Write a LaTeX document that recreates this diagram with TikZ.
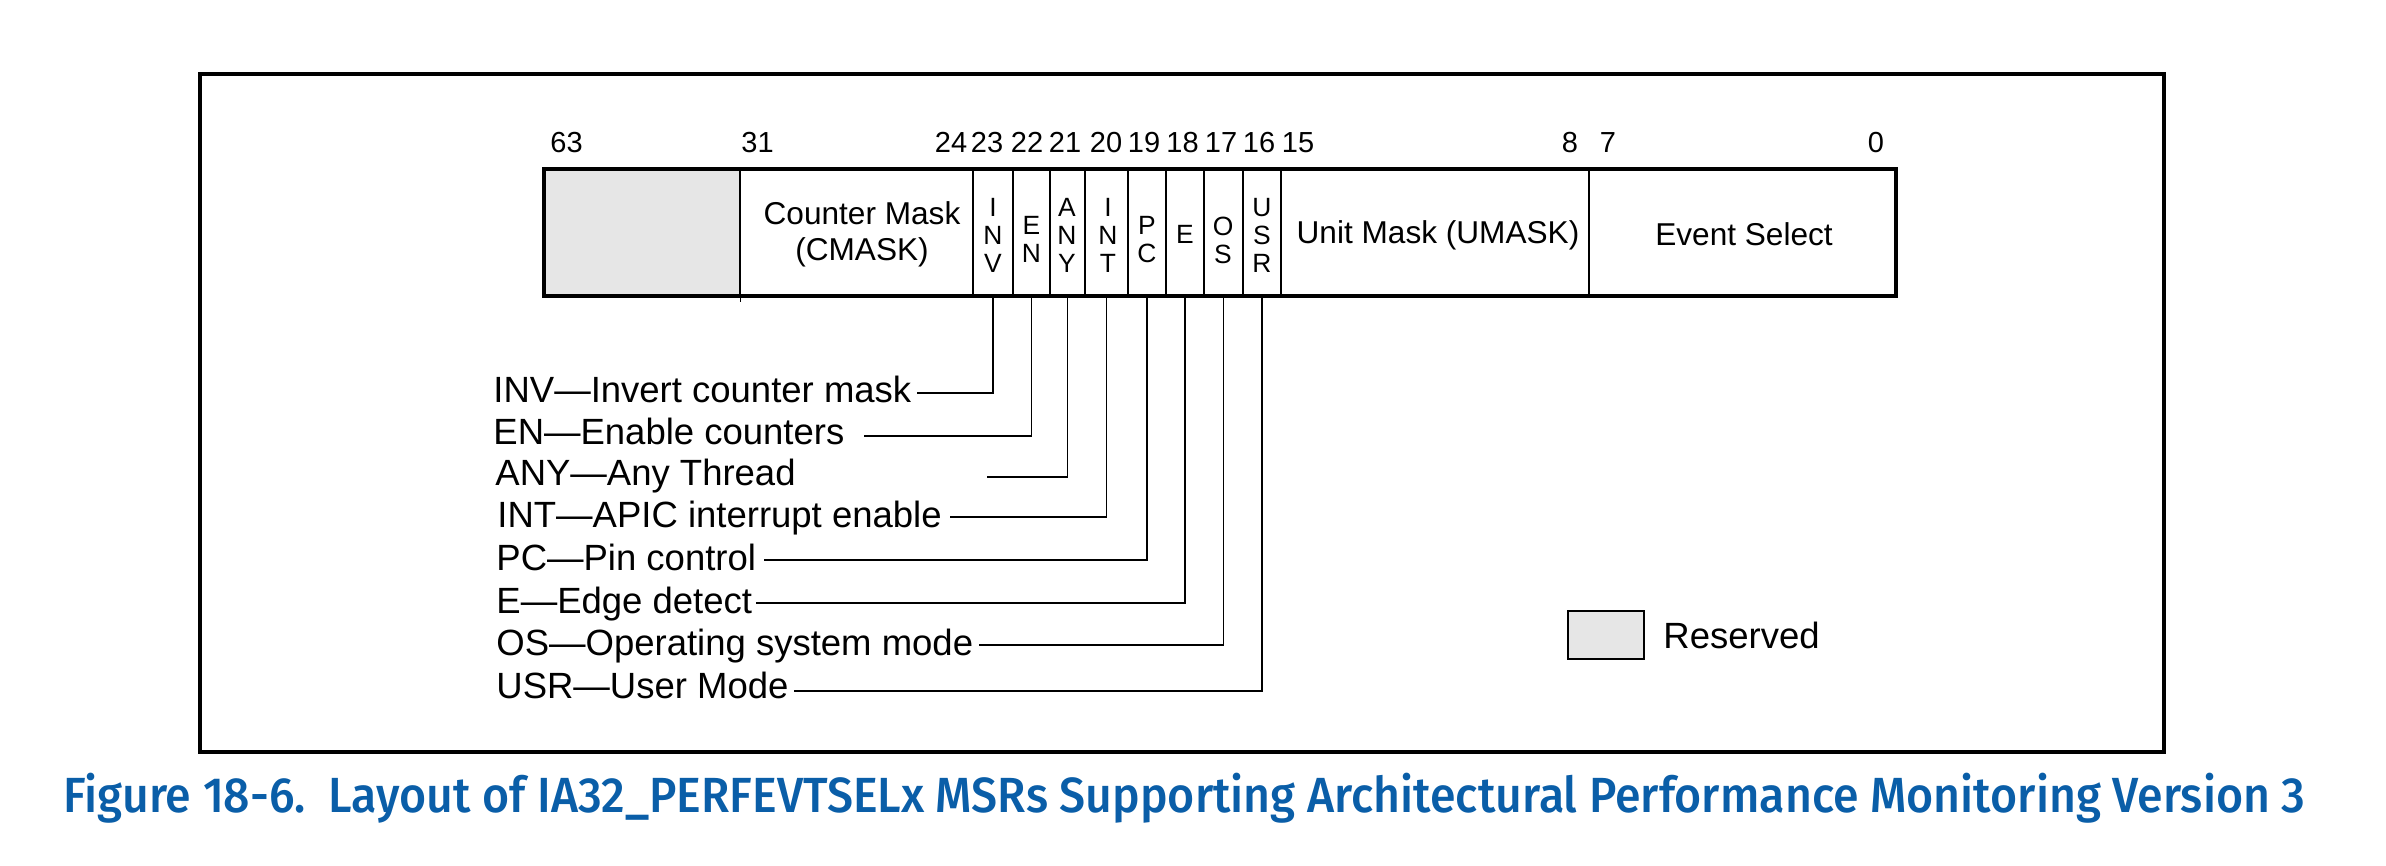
\documentclass[tikz,border=0pt]{standalone}
\usepackage{fontspec}
\setmainfont{Liberation Sans}
\newfontfamily\capfont{Fira Sans Medium}
\usetikzlibrary{fit}
\definecolor{capblue}{RGB}{10,94,168}
\definecolor{resgray}{RGB}{230,230,230}
\begin{document}
\begin{tikzpicture}[x=0.5pt,y=-0.5pt,
  fld/.style={draw, line width=0.6pt, inner sep=0pt},
  bitno/.style={font=\fontsize{14.5}{16}\selectfont, anchor=base, inner sep=0pt},
  ftxt/.style={font=\fontsize{15.8}{18}\selectfont, align=center, inner sep=0pt},
  stk/.style={font=\fontsize{13.2}{14}\selectfont, align=center, inner sep=0pt},
  lgd/.style={font=\fontsize{18.25}{20}\selectfont, anchor=base west, inner sep=0pt},
  conn/.style={line width=0.55pt},
]
\useasboundingbox (0,0) rectangle (2386,866);
% outer frame
\node[draw, line width=1.7pt, inner sep=0pt, fit={(200,74)(2164,752)}] (frame) {};
% register fields
\node[fld, fill=resgray, fit={(544,169)(740,296)}] (fres) {};
\node[fld, fit={(740,169)(973,296)}] (fcm) {};
\node[fld, fit={(973,169)(1013,296)}] (finv) {};
\node[fld, fit={(1013,169)(1050,296)}] (fen) {};
\node[fld, fit={(1050,169)(1085,296)}] (fany) {};
\node[fld, fit={(1085,169)(1128,296)}] (fint) {};
\node[fld, fit={(1128,169)(1166,296)}] (fpc) {};
\node[fld, fit={(1166,169)(1204,296)}] (fe) {};
\node[fld, fit={(1204,169)(1243,296)}] (fos) {};
\node[fld, fit={(1243,169)(1281,296)}] (fusr) {};
\node[fld, fit={(1281,169)(1589,296)}] (fum) {};
\node[fld, fit={(1589,169)(1896,296)}] (fes) {};
\node[draw, line width=1.7pt, inner sep=0pt, fit={(544,169)(1896,296)}] (reg) {};
\draw[line width=0.6pt] (fres.south east) -- ++(0,5);
% field texts
\node[ftxt] (tcm) at (862,234) {Counter Mask\\(CMASK)};
\node[stk] (tinv) at (993,235) {I\\N\\V};
\node[stk] (ten) at (1031.5,239) {E\\N};
\node[stk] (tany) at (1067,235) {A\\N\\Y};
\node[stk] (tint) at (1108,235) {I\\N\\T};
\node[stk] (tpc) at (1147,240) {P\\C};
\node[stk] (te) at (1185,234) {E};
\node[stk] (tos) at (1223,240) {O\\S};
\node[stk] (tusr) at (1262,235) {U\\S\\R};
\node[ftxt, anchor=base] (tum) at (1438,243) {Unit Mask (UMASK)};
\node[ftxt, anchor=base] (tes) at (1744,246) {Event Select};
% bit numbers
\node[bitno] (b63) at (566.5,153) {63};
\node[bitno] (b31) at (757.5,153) {31};
\node[bitno] (b24) at (951,153) {24};
\node[bitno] (b23) at (987,153) {23};
\node[bitno] (b22) at (1027,153) {22};
\node[bitno] (b21) at (1065,153) {21};
\node[bitno] (b20) at (1106,153) {20};
\node[bitno] (b19) at (1144,153) {19};
\node[bitno] (b18) at (1182.5,153) {18};
\node[bitno] (b17) at (1221,153) {17};
\node[bitno] (b16) at (1259,153) {16};
\node[bitno] (b15) at (1298,153) {15};
\node[bitno] (b8) at (1570,153) {8};
\node[bitno] (b7) at (1608,153) {7};
\node[bitno] (b0) at (1876,153) {0};
% legend texts
\node[lgd] (linv) at (493,402) {INV—Invert counter mask};
\node[lgd] (len) at (493,444) {EN—Enable counters};
\node[lgd] (lany) at (495,485) {ANY—Any Thread};
\node[lgd] (lint) at (497,527) {INT—APIC interrupt enable};
\node[lgd] (lpc) at (496,570) {PC—Pin control};
\node[lgd] (le) at (496,613) {E—Edge detect};
\node[lgd] (los) at (496,655) {OS—Operating system mode};
\node[lgd] (lusr) at (496,698) {USR—User Mode};
% connector ends
\coordinate (cinv) at (917,393);
\coordinate (cen) at (864,436);
\coordinate (cany) at (987,477);
\coordinate (cint) at (950,517);
\coordinate (cpc) at (764,560);
\coordinate (ce) at (756,603);
\coordinate (cos) at (979,645);
\coordinate (cusr) at (794,691);
\draw[conn] (finv.south) |- (cinv);
\draw[conn] (fen.south) |- (cen);
\draw[conn] (fany.south) |- (cany);
\draw[conn] (fint.south) |- (cint);
\draw[conn] (fpc.south) |- (cpc);
\draw[conn] (fe.south) |- (ce);
\draw[conn] (fos.south) |- (cos);
\draw[conn] (fusr.south) |- (cusr);
% reserved legend
\node[draw, line width=0.6pt, fill=resgray, inner sep=0pt, fit={(1568,611)(1644,659)}] (lres) {};
\node[lgd] (lrestxt) at (1663,648) {Reserved};
% caption
\node[anchor=base west, inner sep=0pt, text=capblue] (cap) at (63,812) {\resizebox{1121pt}{\height}{\capfont\fontsize{24.7}{28}\selectfont Figure 18-6.\ \ Layout of IA32\_PERFEVTSELx MSRs Supporting Architectural Performance Monitoring Version 3}};
\end{tikzpicture}
\end{document}
